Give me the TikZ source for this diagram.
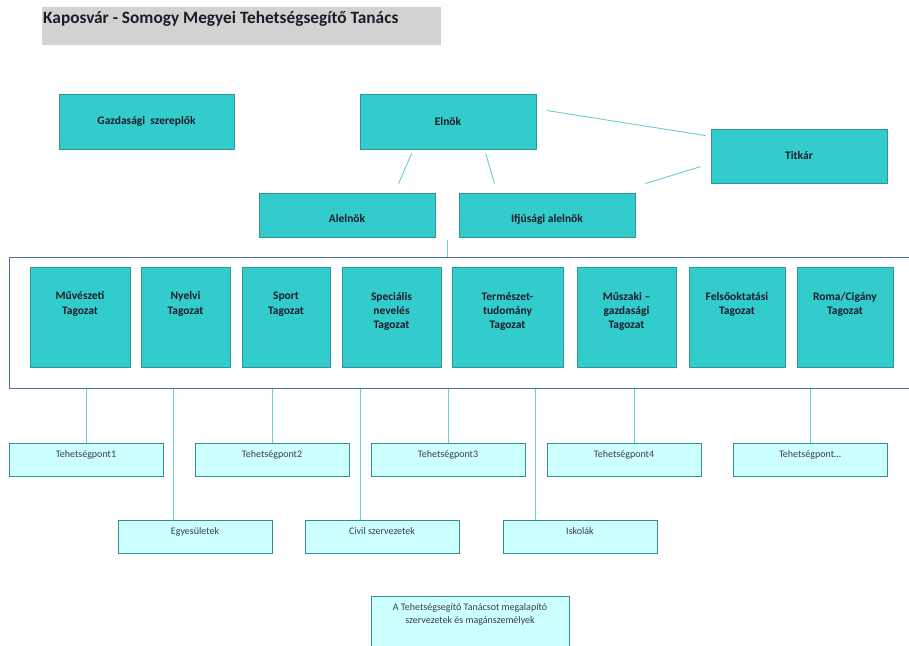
\documentclass[tikz,border=0pt]{standalone}
\usepackage{fontspec}
\setmainfont{Carlito}
\usetikzlibrary{calc}
\definecolor{tealfill}{HTML}{33CCCC}
\definecolor{tealborder}{HTML}{2E9494}
\definecolor{lightfill}{HTML}{CCFFFF}
\definecolor{lightborder}{HTML}{3A8C8C}
\definecolor{conncol}{HTML}{66D0D0}
\definecolor{contborder}{HTML}{4F6F9F}
\definecolor{titlefill}{HTML}{D2D2D2}
\definecolor{txtcol}{HTML}{1C1C28}
\begin{document}
\begin{tikzpicture}[x=1pt,y=-1pt,
  darkbox/.style={draw=tealborder, fill=tealfill, line width=0.8pt, inner sep=0pt},
  lightbx/.style={draw=lightborder, fill=lightfill, line width=0.8pt, inner sep=0pt},
  bigtext/.style={font=\fontsize{11.5}{14.3}\selectfont\bfseries, text=txtcol, align=center, inner sep=0pt},
  smalltext/.style={font=\fontsize{10}{13.3}\selectfont, text=txtcol!85, align=center, inner sep=0pt},
  conn/.style={draw=conncol, line width=0.9pt},
]
\useasboundingbox (0,0) rectangle (909,645);
\fill[white] (0,0) rectangle (909,645);

% title
\node[fill=titlefill, minimum width=399pt, minimum height=38pt, inner sep=0pt] (titlebox) at (241.5,26) {};
\node[font=\fontsize{17.3}{20}\selectfont\bfseries, text=txtcol, anchor=west, inner sep=0pt] (title) at (43,19) {Kaposvár - Somogy Megyei Tehetségsegítő Tanács};

% top boxes
\node[darkbox, minimum width=175pt, minimum height=55pt] (gazd) at (146.5,121.5) {};
\node[bigtext] (gazdt) at (gazd.center) {Gazdasági~~szereplők};
\node[darkbox, minimum width=176pt, minimum height=55pt] (elnok) at (448,121.5) {};
\node[bigtext] (elnokt) at (elnok.center) {Elnök};
\node[darkbox, minimum width=176pt, minimum height=54pt] (titkar) at (799,156) {};
\node[bigtext] (titkart) at (titkar.center) {Titkár};
\node[darkbox, minimum width=176pt, minimum height=44pt] (alelnok) at (347,215) {};
\node[bigtext] (alelnokt) at ([yshift=-4pt]alelnok.center) {Alelnök};
\node[darkbox, minimum width=176pt, minimum height=44pt] (ifju) at (547,215) {};
\node[bigtext] (ifjut) at ([yshift=-4pt]ifju.center) {Ifjúsági alelnök};

% connectors top
\draw[conn] ([xshift=52pt,yshift=-4pt]elnok.south west) -- ([xshift=140pt,yshift=9pt]alelnok.north west);
\draw[conn] ([xshift=126pt,yshift=-4pt]elnok.south west) -- ([xshift=36pt,yshift=9pt]ifju.north west);
\draw[conn] ([xshift=11pt,yshift=-17pt]elnok.north east) -- ([xshift=-5pt,yshift=-7pt]titkar.north west);
\draw[conn] ([xshift=-10pt,yshift=-38pt]titkar.north west) -- ([xshift=10pt,yshift=9pt]ifju.north east);

% container
\node[draw=contborder, line width=1pt, minimum width=906pt, minimum height=131pt, inner sep=0pt] (cont) at (462,322.5) {};
\coordinate (mid) at ($(alelnok.south east)!0.5!(ifju.south west)$);
\draw[conn] ([yshift=-3pt]mid) -- (mid |- cont.north);

% tagozat boxes
\node[darkbox, minimum width=100pt, minimum height=100pt] (t1) at (80,317) {};
\node[darkbox, minimum width=89pt, minimum height=100pt] (t2) at (185.5,317) {};
\node[darkbox, minimum width=88pt, minimum height=100pt] (t3) at (286,317) {};
\node[darkbox, minimum width=99pt, minimum height=100pt] (t4) at (391.5,317.5) {};
\node[darkbox, minimum width=111pt, minimum height=100pt] (t5) at (507.5,317.5) {};
\node[darkbox, minimum width=99pt, minimum height=100pt] (t6) at (626.5,317.5) {};
\node[darkbox, minimum width=96pt, minimum height=100pt] (t7) at (737,317.5) {};
\node[darkbox, minimum width=96pt, minimum height=100pt] (t8) at (845,317.5) {};
\node[bigtext, anchor=north] (t1t) at ([yshift=-23pt]t1.north) {\strut Művészeti\\Tagozat};
\node[bigtext, anchor=north] (t2t) at ([yshift=-23pt]t2.north) {\strut Nyelvi\\Tagozat};
\node[bigtext, anchor=north] (t3t) at ([yshift=-23pt]t3.north) {\strut Sport\\Tagozat};
\node[bigtext, anchor=north] (t4t) at ([yshift=-23pt]t4.north) {\strut Speciális\\nevelés\\Tagozat};
\node[bigtext, anchor=north] (t5t) at ([yshift=-23pt]t5.north) {\strut Természet-\\tudomány\\Tagozat};
\node[bigtext, anchor=north] (t6t) at ([yshift=-23pt]t6.north) {\strut Műszaki --\\gazdasági\\Tagozat};
\node[bigtext, anchor=north] (t7t) at ([yshift=-23pt]t7.north) {\strut Felsőoktatási\\Tagozat};
\node[bigtext, anchor=north] (t8t) at ([yshift=-23pt]t8.north) {\strut Roma/Cigány\\Tagozat};

% lower boxes
\node[lightbx, minimum width=154pt, minimum height=33pt] (tp1) at (86,459.5) {};
\node[lightbx, minimum width=154pt, minimum height=33pt] (tp2) at (272,459.5) {};
\node[lightbx, minimum width=154pt, minimum height=33pt] (tp3) at (448,459.5) {};
\node[lightbx, minimum width=154pt, minimum height=33pt] (tp4) at (624,459.5) {};
\node[lightbx, minimum width=154pt, minimum height=33pt] (tp5) at (810,459.5) {};
\node[lightbx, minimum width=154pt, minimum height=33pt] (egy) at (195,536.5) {};
\node[lightbx, minimum width=154pt, minimum height=33pt] (civil) at (382,536.5) {};
\node[lightbx, minimum width=154pt, minimum height=33pt] (isk) at (580,536.5) {};
\node[lightbx, minimum width=198pt, minimum height=56pt] (alap) at (470,624) {};

\node[smalltext, anchor=north] (tp1t) at ([yshift=-5pt]tp1.north) {\strut Tehetségpont1};
\node[smalltext, anchor=north] (tp2t) at ([yshift=-5pt]tp2.north) {\strut Tehetségpont2};
\node[smalltext, anchor=north] (tp3t) at ([yshift=-5pt]tp3.north) {\strut Tehetségpont3};
\node[smalltext, anchor=north] (tp4t) at ([yshift=-5pt]tp4.north) {\strut Tehetségpont4};
\node[smalltext, anchor=north] (tp5t) at ([yshift=-5pt]tp5.north) {\strut Tehetségpont…};
\node[smalltext, anchor=north] (egyt) at ([yshift=-5pt]egy.north) {\strut Egyesületek};
\node[smalltext, anchor=north] (civilt) at ([yshift=-5pt]civil.north) {\strut Civil szervezetek};
\node[smalltext, anchor=north] (iskt) at ([yshift=-5pt]isk.north) {\strut Iskolák};
\node[smalltext, anchor=north] (alapt) at ([yshift=-5pt]alap.north) {\strut A Tehetségsegítő Tanácsot megalapító\\szervezetek és magánszemélyek};

% lower connectors
\coordinate (c1) at (tp1.north);
\coordinate (c2) at ([xshift=56pt]egy.north west);
\coordinate (c3) at (tp2.north);
\coordinate (c4) at ([xshift=56pt]civil.north west);
\coordinate (c5) at (tp3.north);
\coordinate (c6) at ([xshift=33pt]isk.north west);
\coordinate (c7) at ([xshift=88pt]tp4.north west);
\coordinate (c8) at (tp5.north);
\foreach \c in {c1,c2,c3,c4,c5,c6,c7,c8}{
  \draw[conn] (\c) -- (\c |- cont.south);
}
\end{tikzpicture}
\end{document}
